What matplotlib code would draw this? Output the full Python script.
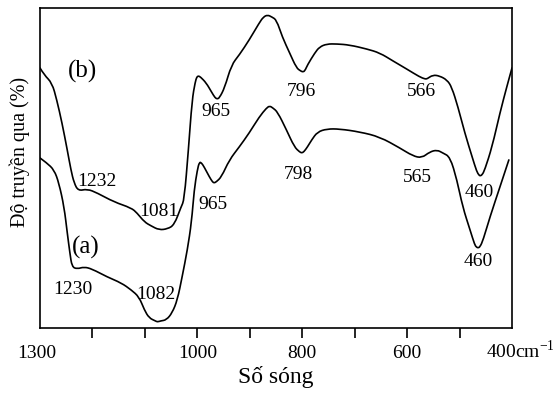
import matplotlib
matplotlib.use("Agg")
import matplotlib.pyplot as plt
from matplotlib.path import Path
from matplotlib.patches import PathPatch
from matplotlib.transforms import ScaledTranslation

plt.rcParams['font.family'] = ['Liberation Serif', 'DejaVu Serif']
plt.rcParams['mathtext.fontset'] = 'custom'
plt.rcParams['mathtext.rm'] = 'Liberation Serif'

# === spectrum (b) ===
wn_b = [1300, 1292, 1277, 1268, 1258, 1248, 1241, 1235, 1227, 1210, 1191, 1159,
        1126, 1115, 1101, 1088, 1073, 1057, 1044, 1031, 1025, 1017, 1010, 1004,
        1001, 998, 994, 983, 973, 966, 962, 958, 948, 935, 920, 901, 882, 874,
        866, 858, 849, 838, 824, 811, 803, 799, 795, 790, 776, 767, 753, 734,
        710, 677, 652, 627, 601, 576, 566, 562, 551, 538, 524, 515, 503, 490,
        476, 467, 463, 461, 457, 452, 438, 423, 410, 400]
t_b = [260, 253, 245, 228, 205, 178, 158, 145, 137, 139, 135, 126,
       120, 115, 106, 102, 98, 99, 103, 121, 128, 178, 228, 246,
       251, 252, 251, 245, 236, 230, 229, 230, 240, 263, 273, 288, 305, 311,
       313, 311, 308, 291, 275, 260, 257, 256, 257, 263, 275, 281, 284, 284,
       283, 279, 275, 267, 259, 251, 249, 249, 253, 252, 248, 241, 221, 195,
       171, 156, 153, 152, 153, 158, 181, 215, 241, 260]

# === spectrum (a) ===
wn_a = [1300, 1287, 1273, 1264, 1254, 1248, 1243, 1239, 1229, 1216, 1201, 1172,
        1145, 1126, 1111, 1101, 1092, 1080, 1076, 1070, 1059, 1048, 1038, 1029,
        1019, 1011, 1006, 1000, 996, 992, 987, 977, 971, 968, 964, 954, 939,
        920, 901, 882, 868, 862, 856, 847, 830, 815, 805, 801, 797, 790, 782,
        771, 753, 729, 690, 652, 614, 589, 572, 557, 543, 532, 518, 505, 494,
        480, 471, 468, 465, 461, 455, 442, 423, 406]
t_a = [170, 165, 158, 145, 121, 95, 75, 61, 59, 61, 59, 51,
       45, 38, 31, 18, 10, 7, 6, 7, 8, 15, 28, 51,
       78, 106, 138, 158, 166, 165, 161, 151, 146, 145, 146, 151, 168,
       181, 195, 211, 220, 222, 220, 216, 198, 181, 176, 175, 176, 181, 188,
       196, 199, 199, 196, 191, 180, 172, 170, 176, 178, 175, 171, 148, 121,
       98, 83, 81, 80, 81, 88, 111, 141, 168]

# === peak labels: (text, wavenumber, transmittance) ===
peak_labels = [
    ("1232", 1191, 146), ("1081", 1073, 116), ("965", 964, 216),
    ("796", 801, 236), ("566", 572, 236), ("460", 463, 135),
    ("1230", 1237, 38), ("1082", 1080, 33), ("965", 971, 123),
    ("798", 807, 153), ("565", 580, 150), ("460", 465, 66),
]

tick_pos = [1300, 1200, 1100, 1000, 900, 800, 700, 600, 500, 400]
tick_txt = ["1300", "", "", "1000", "", "800", "", "600", "", "400cm$^{-1}$"]


def smooth_path(xs, ys):
    # quadratic bezier through midpoints, the read points act as control points
    pts = list(zip(xs, ys))
    verts = [pts[0]]
    codes = [Path.MOVETO]
    for i in range(1, len(pts) - 1):
        mid = ((pts[i][0] + pts[i + 1][0]) / 2, (pts[i][1] + pts[i + 1][1]) / 2)
        verts += [pts[i], mid]
        codes += [Path.CURVE3, Path.CURVE3]
    verts.append(pts[-1])
    codes.append(Path.LINETO)
    return Path(verts, codes)


fig = plt.figure(figsize=(5.57, 3.97), dpi=100)
ax = fig.add_axes([0.0718, 0.174, 0.8474, 0.806])

for xs, ys in [(wn_b, t_b), (wn_a, t_a)]:
    ax.add_patch(PathPatch(smooth_path(xs, ys), fill=False, edgecolor="black",
                           lw=1.2, capstyle="round", joinstyle="round"))

for txt, x, y in peak_labels:
    ax.text(x, y, txt, fontsize=14, ha="center", va="center")

ax.text(1218, 256, "(b)", fontsize=18, ha="center", va="center")
ax.text(1212, 80, "(a)", fontsize=18, ha="center", va="center")

ax.set_xlim(1300, 400)
ax.set_ylim(0, 320)
ax.set_yticks([])
ax.set_xticks(tick_pos)
ax.set_xticklabels(tick_txt, fontsize=14)
ax.tick_params(axis="x", direction="out", length=7, width=1.2, pad=5)

ticks = ax.xaxis.get_major_ticks()
ticks[0].tick1line.set_visible(False)
ticks[-1].tick1line.set_visible(False)
labels = ax.get_xticklabels()
labels[0].set_transform(labels[0].get_transform()
                        + ScaledTranslation(-3 / 100, 0, fig.dpi_scale_trans))
labels[-1].set_transform(labels[-1].get_transform()
                         + ScaledTranslation(8 / 100, 5 / 100, fig.dpi_scale_trans))

for s in ax.spines.values():
    s.set_linewidth(1.2)

ax.set_xlabel("Số sóng", fontsize=17, labelpad=3)
ax.set_ylabel("Độ truyền qua (%)", fontsize=14.5)
ax.yaxis.set_label_coords(-0.022, 0.55)

fig.savefig("out.png", dpi=100)
